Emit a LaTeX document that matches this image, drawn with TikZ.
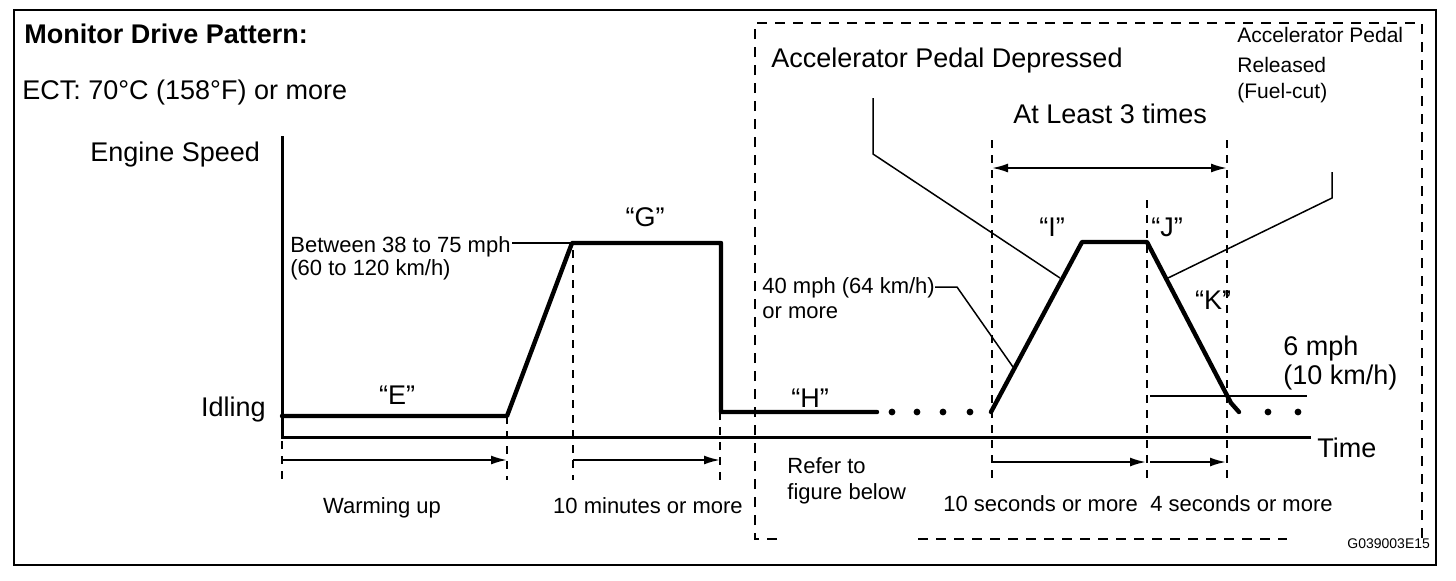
\documentclass[tikz,border=0pt]{standalone}
\usepackage{fontspec}
\setmainfont{Liberation Sans}
\usetikzlibrary{arrows.meta}
\begin{document}
\begin{tikzpicture}[x=0.5pt,y=-0.5pt,
  big/.style={font=\fontsize{13.5}{16}\selectfont, inner sep=0pt},
  small/.style={font=\fontsize{11}{13}\selectfont, inner sep=0pt},
  mid/.style={font=\fontsize{10.5}{13}\selectfont, inner sep=0pt},
  tiny/.style={font=\fontsize{7}{8}\selectfont, inner sep=0pt},
  trace/.style={line width=2.2pt, line join=round, line cap=round},
  axis/.style={line width=1.5pt},
  leader/.style={line width=0.75pt},
  guide/.style={line width=0.6pt, dash pattern=on 4pt off 3.5pt},
  boxdash/.style={line width=1pt, dash pattern=on 5pt off 4pt},
  arr/.style={line width=1pt, -{Latex[length=8pt,width=4.5pt]}},
  darr/.style={line width=1pt, {Latex[length=8pt,width=4.5pt]}-{Latex[length=8pt,width=4.5pt]}},
  dot/.style={fill=black},
]
\useasboundingbox (0,0) rectangle (1456,580);
\fill[white] (0,0) rectangle (1456,580);

% outer frame and dashed box
\draw[line width=1pt] (14,10) rectangle (1436,565);
\draw[boxdash] (777,539) -- (755,539) -- (755,23) -- (1422,23) -- (1422,543);
\draw[boxdash] (918,539) -- (1287,539);

% axes
\coordinate (ytop) at (282,136);
\coordinate (origin) at (282,437);
\coordinate (xend) at (1311,437);
\draw[axis] (ytop) -- (origin) -- (xend);

% trace points
\coordinate (e0) at (282,416);
\coordinate (e1) at (507,416);
\coordinate (g0) at (572,243);
\coordinate (g1) at (721,243);
\coordinate (h0) at (721,412);
\coordinate (h1) at (877,412);
\coordinate (i0) at (991,412);
\coordinate (i1) at (1082,242);
\coordinate (j1) at (1147,242);
\coordinate (k1) at (1231,403);
\coordinate (k2) at (1239,412);
\draw[trace] (e0) -- (e1) -- (g0) -- (g1) -- (h0) -- (h1);
\draw[trace] (i0) -- (i1) -- (j1) -- (k1) -- (k2);
\foreach \x in {892,917,943,970} \fill[dot] (\x,412) circle[radius=1.7pt];
\foreach \x in {1268,1298} \fill[dot] (\x,412) circle[radius=1.7pt];

% guides
\draw[guide] (282,441) -- (282,480);
\draw[guide] (507,416) -- (507,480);
\draw[guide] (573,250) -- (573,480);
\draw[guide] (720,412) -- (720,480);
\draw[guide] (992,140) -- (992,480);
\draw[guide] (1147,200) -- (1147,480);
\draw[guide] (1227,140) -- (1227,480);

% duration arrows
\coordinate (w0) at (283,460); \coordinate (w1) at (507,460);
\coordinate (m0) at (573,460); \coordinate (m1) at (720,460);
\coordinate (s0) at (992,462); \coordinate (s1) at (1146,462);
\coordinate (f0) at (1150,462); \coordinate (f1) at (1226,462);
\coordinate (t0) at (992,168); \coordinate (t1) at (1227,168);
\draw[arr] (w0) -- (w1);
\draw[arr] (m0) -- (m1);
\draw[arr] (s0) -- (s1);
\draw[arr] (f0) -- (f1);
\draw[darr] (t0) -- (t1);

% texts
\node[big, anchor=base west] (title) at (24,43) {\bfseries Monitor Drive Pattern:};
\node[big, anchor=base west] (ect) at (22,99) {ECT: 70°C (158°F) or more};
\node[big, anchor=base west] (espeed) at (90,161) {Engine Speed};
\node[big, anchor=base east] (idling) at (266,416) {Idling};
\node[big, anchor=base west] (timel) at (1317,457) {Time};
\node[big] (lE) at (397,395) {“E”};
\node[big] (lG) at (645,217) {“G”};
\node[big] (lH) at (810,398) {“H”};
\node[big] (lI) at (1052,227) {“I”};
\node[big] (lJ) at (1167,227) {“J”};
\node[big] (lK) at (1213,300) {“K”};
\node[small, anchor=base west] (betw) at (290,252) {Between 38 to 75 mph};
\node[small, anchor=base west] (betw2) at (290,275) {(60 to 120 km/h)};
\node[small, anchor=base west] (forty) at (762,293) {40 mph (64 km/h)};
\node[small, anchor=base west] (forty2) at (762,318) {or more};
\node[small, anchor=base west] (refer) at (787,473) {Refer to};
\node[small, anchor=base west] (refer2) at (787,499) {figure below};
\node[small, anchor=base] (warm) at (382,513) {Warming up};
\node[small, anchor=base] (tenmin) at (648,513) {10 minutes or more};
\node[small, anchor=base west] (tensec) at (943,511) {10 seconds or more};
\node[small, anchor=base west] (foursec) at (1150,511) {4 seconds or more};
\node[big, anchor=base west] (depr) at (771,67) {Accelerator Pedal Depressed};
\node[big, anchor=base west] (least) at (1013,123) {At Least 3 times};
\node[mid, anchor=base west] (rel1) at (1237,42) {Accelerator Pedal};
\node[mid, anchor=base west] (rel2) at (1237,72) {Released};
\node[mid, anchor=base west] (rel3) at (1237,98) {(Fuel-cut)};
\node[big, anchor=base west] (six) at (1283,355) {6 mph};
\node[big, anchor=base west] (six2) at (1283,384) {(10 km/h)};
\node[tiny, anchor=base west] (code) at (1347,548) {G039003E15};

% leaders
\coordinate (bl) at (512,243);
\draw[leader] (bl) -- (g0);
\coordinate (fa) at (935,287); \coordinate (fb) at (957,287); \coordinate (fc) at (1013,367);
\draw[leader] (fa) -- (fb) -- (fc);
\coordinate (da) at (873,98); \coordinate (db) at (873,154); \coordinate (dc) at (1060,278);
\draw[leader] (da) -- (db) -- (dc);
\coordinate (ra) at (1332,172); \coordinate (rb) at (1332,198); \coordinate (rc) at (1168,278);
\draw[leader] (ra) -- (rb) -- (rc);
\coordinate (sa) at (1150,396); \coordinate (sb) at (1307,396);
\draw[leader] (sa) -- (sb);
\end{tikzpicture}
\end{document}
